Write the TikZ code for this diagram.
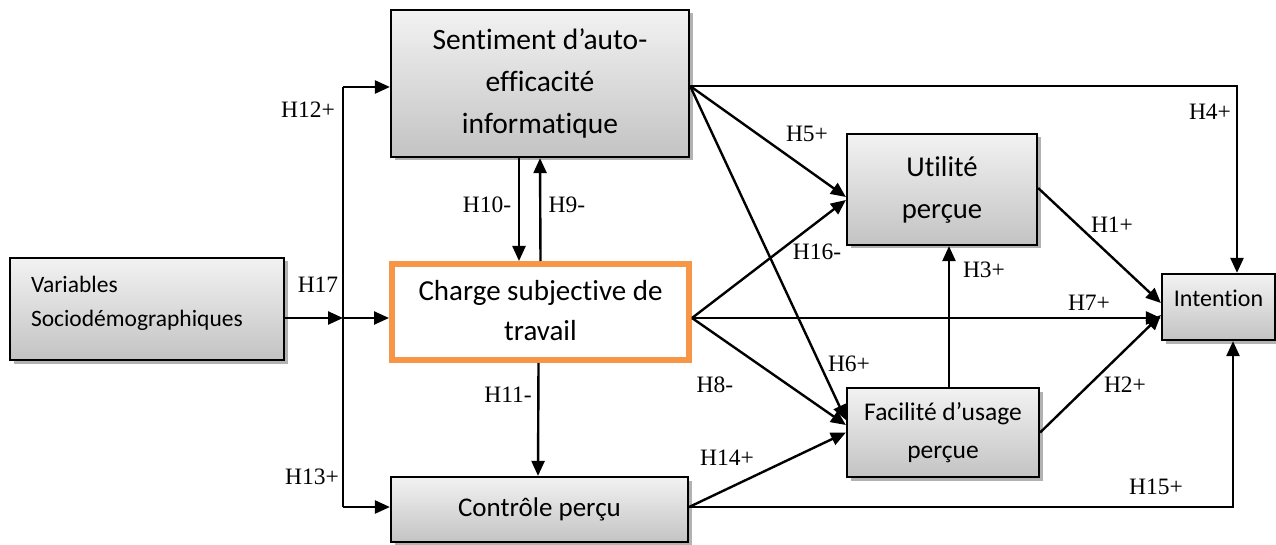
\documentclass[tikz,border=0pt]{standalone}
\usepackage{fontspec}
\setmainfont{Liberation Serif}
\newfontfamily\boxfont[Ligatures=NoCommon]{Carlito}
\usetikzlibrary{arrows.meta,shadows}
\definecolor{orangeb}{HTML}{F79646}
\begin{document}
\begin{tikzpicture}[x=1pt,y=-1pt,
 gbox/.style={draw=black, line width=2.2pt, top color=gray!10, bottom color=gray!47,
   drop shadow={shadow xshift=3.5pt, shadow yshift=-3.5pt, fill=gray!60, opacity=1},
   inner sep=0pt, align=center},
 arr/.style={line width=2.4pt, -{Triangle[length=15pt,width=13pt]}},
 conn/.style={line width=2.4pt},
 lab/.style={font=\fontsize{23.5}{23.5}\selectfont, inner sep=0pt}
]
\clip (0,0) rectangle (1276,545);
\fill[white] (0,0) rectangle (1276,545);

% boxes
\node[gbox, minimum width=298pt, minimum height=147pt, font=\boxfont\fontsize{29.5}{42}\selectfont]
  (sent) at (540,83.5) {Sentiment d’auto-\\efficacité\\informatique};
\node[gbox, minimum width=274pt, minimum height=102pt, text height=20pt, text depth=54pt,
  font=\boxfont\fontsize{23.5}{34}\selectfont]
  (var) at (147,309) {\makebox[232pt][l]{\begin{tabular}[t]{@{}l@{}}Variables\\Sociodémographiques\end{tabular}}};
\node[draw=orangeb, line width=6pt, fill=white, minimum width=297pt, minimum height=96pt,
  inner sep=0pt, font=\boxfont\fontsize{29}{40}\selectfont]
  (charge) at (540.5,312) {\raisebox{-6pt}{\begin{tabular}{@{}c@{}}Charge subjective de\\travail\end{tabular}}};
\node[gbox, minimum width=297pt, minimum height=65pt, font=\boxfont\fontsize{27}{32}\selectfont]
  (contr) at (539.5,509.5) {Contrôle perçu};
\node[gbox, minimum width=190pt, minimum height=111pt, font=\boxfont\fontsize{28.7}{42}\selectfont]
  (util) at (942,189.5) {Utilité\\perçue};
\node[gbox, minimum width=192pt, minimum height=89pt, font=\boxfont\fontsize{25.5}{38}\selectfont]
  (fac) at (943,432.5) {Facilité d’usage\\perçue};
\node[gbox, minimum width=113pt, minimum height=66pt, font=\boxfont\fontsize{24}{30}\selectfont]
  (int) at (1218.5,307) {\raisebox{18pt}{Intention}};

% junction line on the left
\coordinate (jtop) at (343,87);
\coordinate (jmid) at (343,318);
\coordinate (jbot) at (343,507);
\draw[conn] (jtop) -- (jbot);
\draw[arr] ([yshift=-9pt]var.east) -- (jmid);
\draw[arr] (jtop) -- (jtop -| sent.west);
\draw[arr] (jmid) -- (jmid -| charge.west);
\draw[arr] (jbot) -- (jbot -| contr.west);

% vertical arrows
\draw[arr] ([xshift=-21pt]sent.south) -- ([xshift=-21.5pt]charge.north);
\draw[arr] (charge.north) -- (sent.south);
\draw[arr] ([xshift=-2pt]charge.south) -- ([xshift=-1.5pt]contr.north);
\draw[arr] ([xshift=6pt]fac.north) -- ([xshift=7pt]util.south);

% from Sentiment
\draw[arr] ([yshift=-2.5pt]sent.east) -| ([xshift=18.5pt]int.north);
\draw[arr] ([yshift=-2.5pt]sent.east) -- ([yshift=-7.5pt]util.west);
\draw[arr] ([yshift=-2.5pt]sent.east) -- ([yshift=12.5pt]fac.west);

% from Charge
\draw[arr] ([yshift=-6pt]charge.east) -- ([yshift=-10.5pt]util.west);
\draw[arr] ([yshift=-6pt]charge.east) -- ([yshift=-11pt]int.west);
\draw[arr] ([yshift=-6pt]charge.east) -- ([yshift=7.5pt]fac.west);

% from Contrôle
\draw[arr] ([yshift=2.5pt]contr.east) -- (fac.west);
\draw[arr] ([yshift=2.5pt]contr.east) -| ([xshift=14.5pt]int.south);

% to Intention
\draw[arr] ([yshift=1.5pt]util.east) -- ([yshift=4pt]int.west);
\draw[arr] (fac.east) -- ([yshift=-8pt]int.west);

% labels
\node[lab] (l12) at (308,110) {H12+};
\node[lab] (l17) at (318,285) {H17};
\node[lab] (l13) at (312,477) {H13+};
\node[lab] (l10) at (487,205) {H10-};
\node[lab] (l9) at (567,205) {H9-};
\node[lab] (l11) at (508,395) {H11-};
\node[lab] (l5) at (807,134) {H5+};
\node[lab] (l16) at (817,252) {H16-};
\node[lab] (l8) at (715,385) {H8-};
\node[lab] (l6) at (849,364) {H6+};
\node[lab] (l14) at (727,458) {H14+};
\node[lab] (l4) at (1210,112) {H4+};
\node[lab] (l1) at (1112,225) {H1+};
\node[lab] (l3) at (984,270) {H3+};
\node[lab] (l7) at (1089,303) {H7+};
\node[lab] (l2) at (1125,385) {H2+};
\node[lab] (l15) at (1156,487) {H15+};
\end{tikzpicture}
\end{document}
